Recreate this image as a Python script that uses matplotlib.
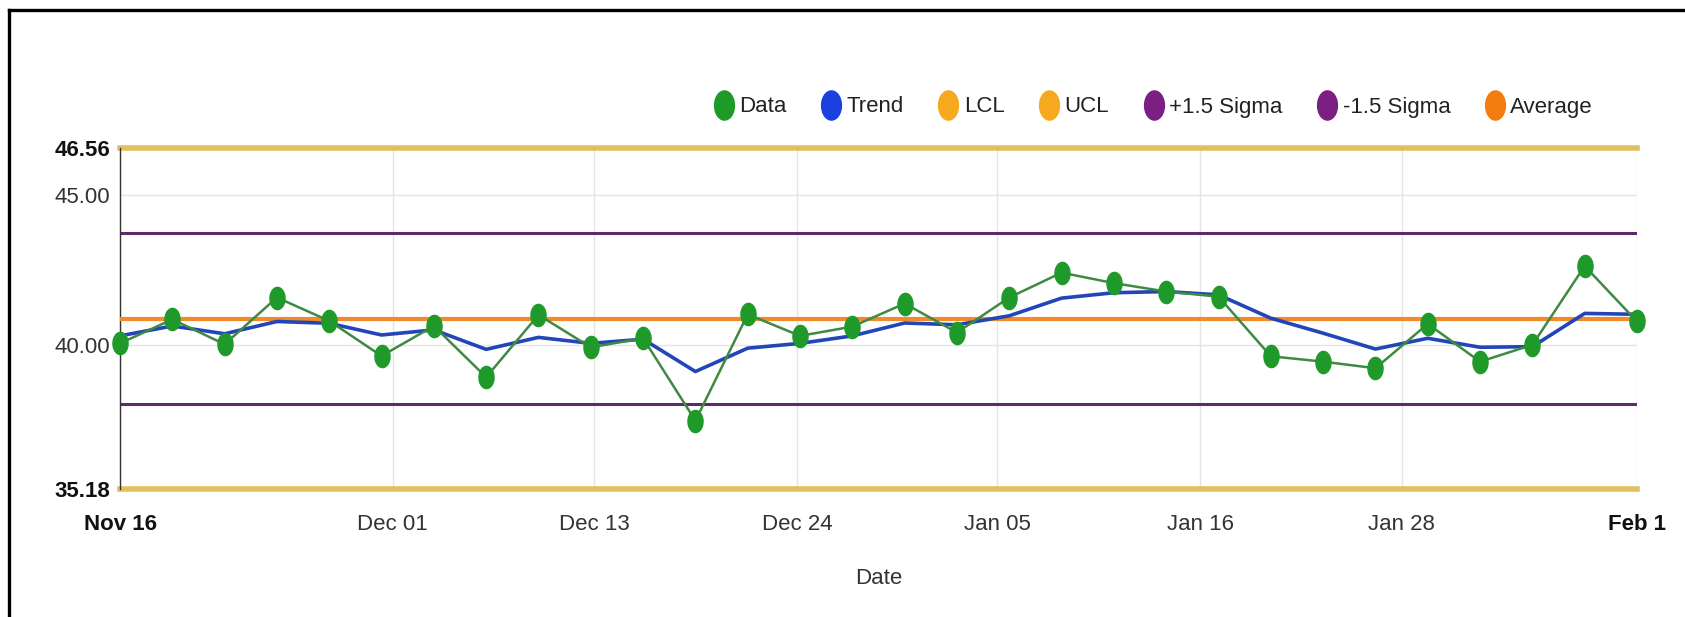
import matplotlib
matplotlib.use("Agg")
import matplotlib.pyplot as plt
import numpy as np
from matplotlib.lines import Line2D
from matplotlib.path import Path

plt.rcParams["font.family"] = ["Liberation Sans", "DejaVu Sans"]

# values
data = [40.04, 40.84, 40.01, 41.57, 40.79, 39.62, 40.62, 38.91, 40.99, 39.91,
        40.21, 37.46, 41.01, 40.29, 40.60, 41.37, 40.40, 41.57, 42.40, 42.05,
        41.77, 41.60, 39.61, 39.43, 39.21, 40.69, 39.43, 39.99, 42.62, 40.77]
trend = [40.29, 40.62, 40.36, 40.77, 40.71, 40.32, 40.49, 39.84, 40.24, 40.04,
         40.18, 39.10, 39.88, 40.04, 40.29, 40.72, 40.66, 40.96, 41.55, 41.73,
         41.77, 41.66, 40.88, 40.38, 39.85, 40.21, 39.91, 39.93, 41.04, 41.01]
ucl = 46.56
lcl = 35.18
average = 40.87
plus_sigma = 43.72
minus_sigma = 38.02

x_ticks = [0, 5.21, 9.07, 12.94, 16.77, 20.65, 24.50, 29]
x_labels = ["Nov 16", "Dec 01", "Dec 13", "Dec 24", "Jan 05", "Jan 16", "Jan 28", "Feb 1"]
y_ticks = [35.18, 40.0, 45.0, 46.56]
y_labels = ["35.18", "40.00", "45.00", "46.56"]

legend_names = ["Data", "Trend", "LCL", "UCL", "+1.5 Sigma", "-1.5 Sigma", "Average"]
legend_colors = ["#1e9a28", "#1a40e0", "#f6a81e", "#f6a81e", "#7b1f82", "#7b1f82", "#f47b0e"]

# google-charts style dots look a bit taller than wide
t = np.linspace(0, 2 * np.pi, 61)
ellipse = Path(np.column_stack([0.68 * np.cos(t), np.sin(t)]), closed=True)

W, H = 1685, 617
fig = plt.figure(figsize=(W / 100, H / 100), dpi=100)
ax = fig.add_axes([120 / W, 1 - 489 / H, (1637 - 120) / W, (489 - 148) / H])

x = np.arange(len(data))
ax.axhline(ucl, color="#e2c062", lw=4, zorder=2, clip_on=False)
ax.axhline(lcl, color="#e2c062", lw=4, zorder=2, clip_on=False)
ax.axhline(plus_sigma, color="#5e2a6e", lw=2.2, zorder=2)
ax.axhline(minus_sigma, color="#5e2a6e", lw=2.2, zorder=2)
ax.axhline(average, color="#f08a2a", lw=3, zorder=3)
ax.plot(x, trend, color="#2246b8", lw=2.6, zorder=4)
ax.plot(x, data, color="#3f8a42", lw=1.8, zorder=5)
ax.plot(x, data, ls="none", marker=ellipse, ms=16, color="#1f9a2a", zorder=6, clip_on=False)

ax.set_xlim(0, len(data) - 1)
ax.set_ylim(lcl, ucl)
ax.set_xticks(x_ticks, x_labels)
ax.set_yticks(y_ticks, y_labels)
ax.tick_params(length=0, labelsize=16, colors="#333333")
ax.tick_params(axis="x", pad=18)
ax.tick_params(axis="y", pad=7)
for lab in [ax.get_xticklabels()[0], ax.get_xticklabels()[-1],
            ax.get_yticklabels()[0], ax.get_yticklabels()[-1]]:
    lab.set_fontweight("bold")
    lab.set_color("#111111")
ax.set_xlabel("Date", fontsize=16, color="#333333", labelpad=24)

ax.grid(True, color="#e4e4e4", lw=1, zorder=0)
ax.set_axisbelow(True)
for s in ["top", "right", "bottom"]:
    ax.spines[s].set_visible(False)
ax.spines["left"].set_color("#333333")
ax.spines["left"].set_linewidth(1)

handles = [Line2D([], [], ls="none", marker=ellipse, ms=21, color=c) for c in legend_colors]
fig.legend(handles, legend_names, loc="center right", bbox_to_anchor=(1604 / W, 1 - 107 / H),
           ncol=7, frameon=False, fontsize=16, handlelength=0.8, handletextpad=0.3,
           columnspacing=1.6, borderpad=0, labelcolor="#222222")

# screenshot frame on the left and top edges
fig.add_artist(Line2D([9 / W, 9 / W], [0, 1 - 10 / H], color="black", lw=2.4, transform=fig.transFigure))
fig.add_artist(Line2D([9 / W, 1], [1 - 10 / H, 1 - 10 / H], color="black", lw=2.4, transform=fig.transFigure))

fig.savefig("out.png", dpi=100)
